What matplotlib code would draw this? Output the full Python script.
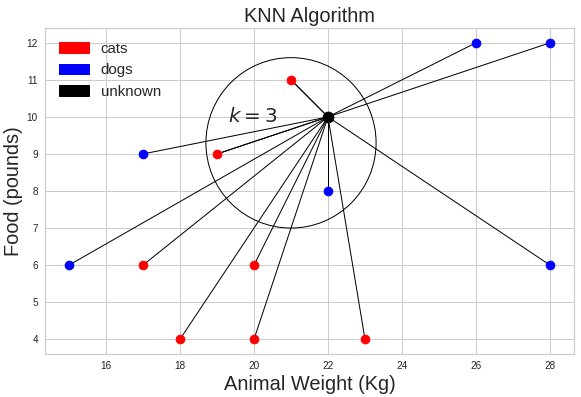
import matplotlib
matplotlib.use("Agg")
import matplotlib.pyplot as plt
from matplotlib.patches import Patch, Circle

cat_x = [21, 19, 17, 20, 18, 20, 23]
cat_y = [11, 9, 6, 6, 4, 4, 4]
dog_x = [26, 28, 17, 22, 15, 28]
dog_y = [12, 12, 9, 8, 6, 6]
unk_x = [22]
unk_y = [10]
near_x = [21, 19, 22]
near_y = [11, 9, 8]
circle_center = (21, 9.3)
circle_radius = 2.3

plt.rcParams['font.family'] = ['Liberation Sans', 'DejaVu Sans']
plt.rcParams['mathtext.fontset'] = 'dejavusans'

fig = plt.figure(figsize=(581/72, 397/72), dpi=72)
ax = fig.add_axes([45/581, 1-354/397, (574-45)/581, (354-28)/397])
ax.set_facecolor('white')
for s in ax.spines.values():
    s.set_color('#cccccc')
    s.set_linewidth(1.25)
ax.grid(True, color='#cccccc', linewidth=1)
ax.set_axisbelow(True)
ax.tick_params(length=0, labelsize=10, colors='#262626', pad=7)

for x, y in zip(cat_x + dog_x, cat_y + dog_y):
    ax.plot([unk_x[0], x], [unk_y[0], y], color='black', linewidth=1, zorder=2)
for x, y in zip(near_x, near_y):
    ax.plot([unk_x[0], x], [unk_y[0], y], color='black', linewidth=1, zorder=2)

ax.scatter(cat_x, cat_y, color='red', s=75, zorder=3)
ax.scatter(dog_x, dog_y, color='blue', s=75, zorder=3)
ax.scatter(unk_x, unk_y, color='black', s=115, zorder=4)

ax.add_patch(Circle(circle_center, circle_radius, fill=False, edgecolor='black', linewidth=1, zorder=2))
ax.text(19.3, 10, r'$k = 3$', fontsize=20, color='#262626', va='center')

ax.set_xticks([16, 18, 20, 22, 24, 26, 28])
ax.set_yticks(range(4, 13))
ax.set_xlim(14.35, 28.65)
ax.set_ylim(3.6, 12.4)

ax.set_title('KNN Algorithm', fontsize=20, color='#262626')
ax.set_xlabel('Animal Weight (Kg)', fontsize=20, color='#262626')
ax.set_ylabel('Food (pounds)', fontsize=20, color='#262626')

handles = [Patch(color='red', label='cats'), Patch(color='blue', label='dogs'), Patch(color='black', label='unknown')]
leg = ax.legend(handles=handles, loc='upper left', fontsize=15, frameon=False)
for t in leg.get_texts():
    t.set_color('#262626')

fig.savefig('out.png', dpi=72)
